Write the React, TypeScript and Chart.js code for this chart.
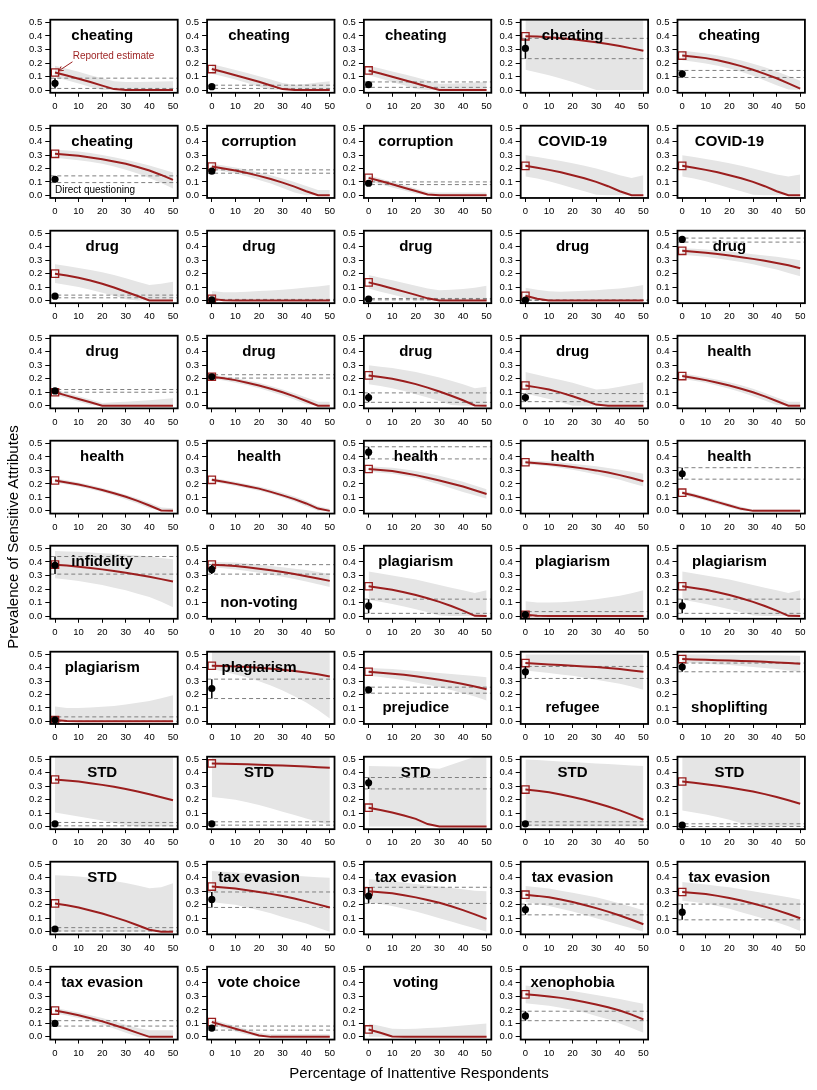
import React, { useEffect, useRef } from "react";
import { Chart, registerables } from "chart.js";
Chart.register(...registerables);

// ---------------- data ----------------
const X_GRID = [0, 5, 10, 15, 20, 25, 30, 35, 40, 45, 50];
const X_TICKS = [0, 10, 20, 30, 40, 50];
const Y_TICKS = [0, 0.1, 0.2, 0.3, 0.4, 0.5];

const TITLES = [
  "cheating", "cheating", "cheating", "cheating", "cheating",
  "cheating", "corruption", "corruption", "COVID-19", "COVID-19",
  "drug", "drug", "drug", "drug", "drug",
  "drug", "drug", "drug", "drug", "health",
  "health", "health", "health", "health", "health",
  "infidelity", "non-voting", "plagiarism", "plagiarism", "plagiarism",
  "plagiarism", "plagiarism", "prejudice", "refugee", "shoplifting",
  "STD", "STD", "STD", "STD", "STD",
  "STD", "tax evasion", "tax evasion", "tax evasion", "tax evasion",
  "tax evasion", "vote choice", "voting", "xenophobia",
];
const TITLE_AT_BOTTOM = [26, 32, 33, 34];

const REPORTED = [
  0.13, 0.155, 0.145, 0.397, 0.255,
  0.31, 0.215, 0.13, 0.22, 0.22,
  0.2, 0.012, 0.135, 0.035, 0.37,
  0.1, 0.215, 0.225, 0.15, 0.22,
  0.225, 0.23, 0.31, 0.36, 0.135,
  0.38, 0.38, 0.22, 0.01, 0.22,
  0.01, 0.415, 0.37, 0.435, 0.465,
  0.35, 0.47, 0.14, 0.275, 0.335,
  0.21, 0.335, 0.3, 0.275, 0.295,
  0.195, 0.11, 0.055, 0.315,
];

const CURVES = [
  [0.13, 0.108, 0.084, 0.059, 0.033, 0.007, 0, 0, 0, 0, 0],
  [0.155, 0.133, 0.11, 0.086, 0.061, 0.034, 0.007, 0, 0, 0, 0],
  [0.145, 0.122, 0.099, 0.075, 0.05, 0.024, 0, 0, 0, 0, 0],
  [0.397, 0.395, 0.39, 0.383, 0.375, 0.365, 0.353, 0.34, 0.325, 0.308, 0.29],
  [0.255, 0.247, 0.236, 0.22, 0.2, 0.177, 0.15, 0.12, 0.087, 0.05, 0.01],
  [0.31, 0.303, 0.295, 0.283, 0.27, 0.253, 0.235, 0.212, 0.185, 0.152, 0.115],
  [0.215, 0.201, 0.185, 0.166, 0.145, 0.122, 0.095, 0.065, 0.03, 0, 0],
  [0.13, 0.107, 0.082, 0.057, 0.032, 0.006, 0, 0, 0, 0, 0],
  [0.22, 0.206, 0.19, 0.172, 0.15, 0.127, 0.1, 0.068, 0.03, 0, 0],
  [0.22, 0.206, 0.19, 0.172, 0.15, 0.127, 0.1, 0.068, 0.03, 0, 0],
  [0.2, 0.186, 0.17, 0.149, 0.125, 0.097, 0.065, 0.033, 0, 0, 0],
  [0.012, 0.002, 0, 0, 0, 0, 0, 0, 0, 0, 0],
  [0.135, 0.113, 0.09, 0.066, 0.042, 0.016, 0, 0, 0, 0, 0],
  [0.035, 0.013, 0, 0, 0, 0, 0, 0, 0, 0, 0],
  [0.37, 0.363, 0.355, 0.346, 0.335, 0.323, 0.31, 0.296, 0.28, 0.262, 0.24],
  [0.1, 0.075, 0.05, 0.025, 0, 0, 0, 0, 0, 0, 0],
  [0.215, 0.204, 0.19, 0.171, 0.15, 0.126, 0.1, 0.069, 0.035, 0, 0],
  [0.225, 0.213, 0.2, 0.181, 0.16, 0.134, 0.105, 0.074, 0.04, 0.002, 0],
  [0.15, 0.136, 0.12, 0.097, 0.07, 0.04, 0.008, 0, 0, 0, 0],
  [0.22, 0.206, 0.19, 0.171, 0.15, 0.126, 0.1, 0.069, 0.035, 0, 0],
  [0.225, 0.211, 0.195, 0.176, 0.155, 0.131, 0.105, 0.074, 0.04, 0.003, 0],
  [0.23, 0.216, 0.2, 0.183, 0.165, 0.141, 0.115, 0.087, 0.055, 0.017, 0],
  [0.31, 0.303, 0.295, 0.281, 0.265, 0.246, 0.225, 0.203, 0.18, 0.153, 0.125],
  [0.36, 0.353, 0.345, 0.336, 0.325, 0.313, 0.3, 0.284, 0.265, 0.243, 0.22],
  [0.135, 0.114, 0.09, 0.065, 0.04, 0.015, 0, 0, 0, 0, 0],
  [0.38, 0.373, 0.365, 0.356, 0.345, 0.333, 0.32, 0.306, 0.29, 0.273, 0.255],
  [0.38, 0.375, 0.37, 0.361, 0.35, 0.338, 0.325, 0.311, 0.295, 0.278, 0.26],
  [0.22, 0.208, 0.195, 0.176, 0.155, 0.131, 0.105, 0.074, 0.04, 0.002, 0],
  [0.01, 0.002, 0, 0, 0, 0, 0, 0, 0, 0, 0],
  [0.22, 0.208, 0.195, 0.176, 0.155, 0.131, 0.105, 0.074, 0.04, 0.002, 0],
  [0.01, 0.002, 0, 0, 0, 0, 0, 0, 0, 0, 0],
  [0.415, 0.413, 0.41, 0.405, 0.4, 0.393, 0.385, 0.376, 0.365, 0.351, 0.335],
  [0.37, 0.363, 0.356, 0.347, 0.336, 0.324, 0.31, 0.295, 0.278, 0.26, 0.24],
  [0.435, 0.43, 0.425, 0.42, 0.415, 0.41, 0.405, 0.398, 0.39, 0.38, 0.37],
  [0.465, 0.462, 0.46, 0.457, 0.455, 0.451, 0.448, 0.444, 0.44, 0.435, 0.43],
  [0.35, 0.343, 0.335, 0.323, 0.31, 0.296, 0.28, 0.261, 0.24, 0.218, 0.195],
  [0.47, 0.468, 0.465, 0.463, 0.46, 0.457, 0.455, 0.451, 0.447, 0.442, 0.437],
  [0.14, 0.123, 0.104, 0.082, 0.057, 0.018, 0, 0, 0, 0, 0],
  [0.275, 0.266, 0.255, 0.239, 0.22, 0.199, 0.175, 0.149, 0.12, 0.087, 0.05],
  [0.335, 0.326, 0.315, 0.303, 0.29, 0.276, 0.26, 0.241, 0.22, 0.196, 0.17],
  [0.21, 0.196, 0.18, 0.158, 0.135, 0.108, 0.08, 0.048, 0.015, 0, 0],
  [0.335, 0.328, 0.32, 0.308, 0.295, 0.281, 0.265, 0.246, 0.225, 0.203, 0.18],
  [0.3, 0.293, 0.285, 0.271, 0.255, 0.236, 0.215, 0.189, 0.16, 0.129, 0.095],
  [0.275, 0.266, 0.255, 0.239, 0.22, 0.198, 0.175, 0.149, 0.12, 0.089, 0.055],
  [0.295, 0.288, 0.28, 0.266, 0.25, 0.231, 0.21, 0.186, 0.16, 0.131, 0.1],
  [0.195, 0.178, 0.16, 0.138, 0.115, 0.088, 0.06, 0.03, 0, 0, 0],
  [0.11, 0.085, 0.06, 0.035, 0.01, 0, 0, 0, 0, 0, 0],
  [0.055, 0.03, 0.003, 0, 0, 0, 0, 0, 0, 0, 0],
  [0.315, 0.308, 0.3, 0.289, 0.275, 0.259, 0.24, 0.219, 0.195, 0.165, 0.13],
];

const BAND_LO = [
  [0.095, 0.072, 0.048, 0.022, 0, 0, 0, 0, 0, 0, 0],
  [0.12, 0.1, 0.078, 0.052, 0.025, 0.002, 0, 0, 0, 0, 0],
  [0.11, 0.085, 0.06, 0.035, 0.008, 0, 0, 0, 0, 0, 0],
  [0.15, 0.13, 0.11, 0.085, 0.06, 0.03, 0, 0, 0, 0, 0],
  [0.22, 0.21, 0.197, 0.18, 0.16, 0.135, 0.105, 0.07, 0.035, 0.005, 0],
  [0.28, 0.272, 0.262, 0.25, 0.235, 0.215, 0.19, 0.162, 0.13, 0.092, 0.05],
  [0.195, 0.18, 0.162, 0.14, 0.115, 0.088, 0.055, 0.02, 0, 0, 0],
  [0.105, 0.082, 0.058, 0.035, 0.012, 0, 0, 0, 0, 0, 0],
  [0.14, 0.125, 0.105, 0.08, 0.055, 0.03, 0.005, 0, 0, 0, 0],
  [0.14, 0.125, 0.105, 0.08, 0.055, 0.03, 0.005, 0, 0, 0, 0],
  [0.13, 0.115, 0.1, 0.08, 0.058, 0.035, 0.01, 0, 0, 0, 0],
  [0, 0, 0, 0, 0, 0, 0, 0, 0, 0, 0],
  [0.09, 0.066, 0.045, 0.022, 0, 0, 0, 0, 0, 0, 0],
  [0, 0, 0, 0, 0, 0, 0, 0, 0, 0, 0],
  [0.34, 0.333, 0.325, 0.313, 0.3, 0.286, 0.27, 0.25, 0.23, 0.205, 0.18],
  [0.08, 0.055, 0.03, 0.005, 0, 0, 0, 0, 0, 0, 0],
  [0.2, 0.187, 0.17, 0.152, 0.13, 0.104, 0.075, 0.045, 0.01, 0, 0],
  [0.16, 0.146, 0.13, 0.11, 0.085, 0.06, 0.035, 0.005, 0, 0, 0],
  [0.09, 0.07, 0.05, 0.025, 0, 0, 0, 0, 0, 0, 0],
  [0.2, 0.186, 0.17, 0.149, 0.125, 0.099, 0.07, 0.038, 0.005, 0, 0],
  [0.21, 0.196, 0.18, 0.161, 0.14, 0.114, 0.085, 0.054, 0.02, 0, 0],
  [0.215, 0.201, 0.185, 0.168, 0.15, 0.126, 0.1, 0.07, 0.035, 0, 0],
  [0.29, 0.283, 0.275, 0.261, 0.245, 0.222, 0.195, 0.168, 0.14, 0.115, 0.09],
  [0.345, 0.338, 0.33, 0.318, 0.305, 0.288, 0.27, 0.25, 0.23, 0.205, 0.18],
  [0.12, 0.098, 0.075, 0.05, 0.025, 0, 0, 0, 0, 0, 0],
  [0.28, 0.27, 0.26, 0.245, 0.23, 0.21, 0.19, 0.165, 0.14, 0.105, 0.065],
  [0.36, 0.353, 0.345, 0.333, 0.32, 0.305, 0.29, 0.273, 0.255, 0.235, 0.215],
  [0.12, 0.105, 0.09, 0.07, 0.05, 0.028, 0.005, 0, 0, 0, 0],
  [0, 0, 0, 0, 0, 0, 0, 0, 0, 0, 0],
  [0.12, 0.105, 0.09, 0.07, 0.05, 0.028, 0.005, 0, 0, 0, 0],
  [0, 0, 0, 0, 0, 0, 0, 0, 0, 0, 0],
  [0.39, 0.372, 0.35, 0.327, 0.3, 0.268, 0.23, 0.188, 0.14, 0.085, 0.02],
  [0.34, 0.331, 0.32, 0.306, 0.29, 0.273, 0.255, 0.234, 0.21, 0.185, 0.155],
  [0.38, 0.37, 0.36, 0.35, 0.34, 0.326, 0.31, 0.295, 0.28, 0.26, 0.235],
  [0.44, 0.436, 0.43, 0.425, 0.42, 0.413, 0.405, 0.398, 0.39, 0.38, 0.37],
  [0.105, 0.09, 0.075, 0.06, 0.045, 0.028, 0.01, 0, 0, 0, 0],
  [0.22, 0.21, 0.2, 0.18, 0.16, 0.135, 0.11, 0.085, 0.06, 0.035, 0.01],
  [0, 0, 0, 0, 0, 0, 0, 0, 0, 0, 0],
  [0, 0, 0, 0, 0, 0, 0, 0, 0, 0, 0],
  [0.12, 0.105, 0.09, 0.07, 0.05, 0.025, 0.002, 0, 0, 0, 0],
  [0, 0, 0, 0, 0, 0, 0, 0, 0, 0, 0],
  [0.22, 0.21, 0.2, 0.18, 0.16, 0.137, 0.11, 0.085, 0.06, 0.03, 0],
  [0.22, 0.205, 0.19, 0.17, 0.15, 0.125, 0.1, 0.075, 0.05, 0.025, 0],
  [0.22, 0.206, 0.19, 0.17, 0.15, 0.125, 0.1, 0.075, 0.05, 0.025, 0],
  [0.23, 0.22, 0.21, 0.19, 0.17, 0.145, 0.12, 0.095, 0.07, 0.04, 0.005],
  [0.175, 0.158, 0.14, 0.117, 0.09, 0.062, 0.03, 0, 0, 0, 0],
  [0.09, 0.065, 0.04, 0.015, 0, 0, 0, 0, 0, 0, 0],
  [0, 0, 0, 0, 0, 0, 0, 0, 0, 0, 0],
  [0.25, 0.24, 0.23, 0.216, 0.2, 0.18, 0.155, 0.13, 0.1, 0.065, 0.03],
];

const BAND_HI = [
  [0.18, 0.158, 0.135, 0.11, 0.088, 0.066, 0.06, 0.06, 0.062, 0.063, 0.065],
  [0.19, 0.17, 0.148, 0.126, 0.103, 0.078, 0.052, 0.04, 0.045, 0.055, 0.065],
  [0.18, 0.16, 0.138, 0.116, 0.094, 0.07, 0.047, 0.048, 0.05, 0.055, 0.06],
  [0.56, 0.56, 0.56, 0.56, 0.56, 0.56, 0.56, 0.56, 0.56, 0.56, 0.56],
  [0.29, 0.282, 0.27, 0.255, 0.238, 0.218, 0.195, 0.168, 0.138, 0.104, 0.068],
  [0.34, 0.335, 0.327, 0.316, 0.302, 0.285, 0.266, 0.245, 0.222, 0.197, 0.17],
  [0.235, 0.222, 0.207, 0.19, 0.17, 0.15, 0.126, 0.1, 0.07, 0.04, 0.04],
  [0.15, 0.126, 0.1, 0.076, 0.05, 0.025, 0.02, 0.02, 0.02, 0.02, 0.02],
  [0.3, 0.287, 0.272, 0.257, 0.24, 0.22, 0.2, 0.175, 0.15, 0.13, 0.15],
  [0.3, 0.287, 0.272, 0.257, 0.24, 0.22, 0.2, 0.178, 0.155, 0.14, 0.155],
  [0.27, 0.257, 0.242, 0.227, 0.21, 0.19, 0.165, 0.14, 0.115, 0.125, 0.14],
  [0.07, 0.062, 0.062, 0.065, 0.07, 0.075, 0.08, 0.088, 0.096, 0.105, 0.115],
  [0.19, 0.17, 0.15, 0.13, 0.11, 0.09, 0.077, 0.08, 0.085, 0.095, 0.11],
  [0.095, 0.08, 0.068, 0.065, 0.068, 0.072, 0.077, 0.083, 0.09, 0.1, 0.115],
  [0.39, 0.386, 0.38, 0.373, 0.365, 0.355, 0.345, 0.335, 0.325, 0.313, 0.3],
  [0.12, 0.095, 0.07, 0.045, 0.02, 0.025, 0.03, 0.035, 0.04, 0.048, 0.055],
  [0.23, 0.219, 0.205, 0.189, 0.17, 0.147, 0.12, 0.092, 0.06, 0.03, 0.03],
  [0.3, 0.29, 0.28, 0.266, 0.25, 0.23, 0.21, 0.185, 0.16, 0.13, 0.14],
  [0.25, 0.23, 0.21, 0.19, 0.17, 0.145, 0.12, 0.125, 0.14, 0.158, 0.175],
  [0.24, 0.226, 0.21, 0.193, 0.175, 0.152, 0.125, 0.095, 0.06, 0.03, 0.03],
  [0.24, 0.226, 0.21, 0.191, 0.17, 0.146, 0.12, 0.092, 0.06, 0.025, 0.02],
  [0.245, 0.231, 0.215, 0.198, 0.18, 0.158, 0.135, 0.106, 0.075, 0.035, 0.015],
  [0.33, 0.326, 0.32, 0.308, 0.295, 0.278, 0.26, 0.238, 0.215, 0.188, 0.16],
  [0.375, 0.37, 0.365, 0.358, 0.35, 0.34, 0.33, 0.318, 0.305, 0.29, 0.275],
  [0.15, 0.128, 0.105, 0.08, 0.055, 0.03, 0.01, 0.01, 0.01, 0.01, 0.01],
  [0.48, 0.478, 0.475, 0.47, 0.465, 0.46, 0.455, 0.448, 0.44, 0.43, 0.42],
  [0.4, 0.398, 0.395, 0.388, 0.38, 0.37, 0.36, 0.35, 0.34, 0.325, 0.31],
  [0.33, 0.315, 0.3, 0.285, 0.27, 0.25, 0.23, 0.21, 0.19, 0.17, 0.19],
  [0.11, 0.1, 0.1, 0.103, 0.108, 0.115, 0.125, 0.137, 0.15, 0.168, 0.19],
  [0.33, 0.315, 0.3, 0.285, 0.27, 0.25, 0.23, 0.21, 0.19, 0.17, 0.19],
  [0.11, 0.1, 0.1, 0.103, 0.108, 0.115, 0.125, 0.138, 0.152, 0.172, 0.195],
  [0.56, 0.56, 0.56, 0.56, 0.56, 0.56, 0.56, 0.56, 0.56, 0.56, 0.56],
  [0.4, 0.395, 0.39, 0.383, 0.375, 0.368, 0.36, 0.353, 0.345, 0.338, 0.33],
  [0.5, 0.5, 0.5, 0.5, 0.5, 0.5, 0.5, 0.5, 0.5, 0.5, 0.5],
  [0.5, 0.5, 0.5, 0.498, 0.497, 0.496, 0.495, 0.494, 0.493, 0.492, 0.49],
  [0.56, 0.56, 0.56, 0.56, 0.56, 0.56, 0.56, 0.56, 0.56, 0.56, 0.56],
  [0.56, 0.56, 0.56, 0.56, 0.56, 0.56, 0.56, 0.56, 0.56, 0.56, 0.56],
  [0.45, 0.449, 0.447, 0.445, 0.44, 0.435, 0.43, 0.46, 0.49, 0.52, 0.55],
  [0.5, 0.495, 0.49, 0.485, 0.48, 0.475, 0.47, 0.465, 0.46, 0.455, 0.45],
  [0.56, 0.56, 0.56, 0.56, 0.56, 0.56, 0.56, 0.56, 0.56, 0.56, 0.56],
  [0.42, 0.416, 0.41, 0.4, 0.39, 0.377, 0.362, 0.343, 0.322, 0.33, 0.36],
  [0.45, 0.445, 0.44, 0.435, 0.43, 0.425, 0.42, 0.415, 0.41, 0.405, 0.4],
  [0.39, 0.385, 0.375, 0.365, 0.355, 0.345, 0.335, 0.325, 0.315, 0.305, 0.3],
  [0.34, 0.33, 0.32, 0.305, 0.29, 0.273, 0.255, 0.233, 0.21, 0.185, 0.16],
  [0.37, 0.36, 0.35, 0.34, 0.33, 0.315, 0.3, 0.285, 0.27, 0.255, 0.24],
  [0.215, 0.198, 0.18, 0.16, 0.14, 0.115, 0.09, 0.065, 0.05, 0.05, 0.05],
  [0.13, 0.105, 0.08, 0.055, 0.03, 0.02, 0.02, 0.02, 0.02, 0.02, 0.02],
  [0.1, 0.08, 0.06, 0.058, 0.06, 0.065, 0.07, 0.077, 0.085, 0.092, 0.1],
  [0.38, 0.37, 0.36, 0.35, 0.34, 0.325, 0.31, 0.295, 0.28, 0.263, 0.245],
];

// direct questioning estimate and its interval (null: not available)
const DQ_EST = [
  0.05, 0.025, 0.04, 0.308, 0.12,
  0.12, 0.18, 0.09, null, null,
  0.032, 0.004, 0.01, 0.002, 0.455,
  0.11, 0.215, 0.06, 0.06, null,
  null, null, 0.435, null, 0.275,
  0.375, 0.345, 0.075, 0.01, 0.075,
  0.01, 0.245, 0.235, 0.37, 0.405,
  0.02, 0.02, 0.325, 0.02, 0.01,
  0.02, 0.24, 0.265, 0.165, 0.145,
  0.1, 0.065, null, 0.155,
];
const DQ_LO = [
  0.012, 0.012, 0.02, 0.232, 0.093,
  0.095, 0.165, 0.08, null, null,
  0.02, 0.0, 0.005, 0.0, 0.435,
  0.1, 0.205, 0.025, 0.03, null,
  null, null, 0.385, null, 0.235,
  0.31, 0.31, 0.02, 0.0, 0.02,
  0.0, 0.17, 0.21, 0.32, 0.37,
  0.005, 0.01, 0.28, 0.01, 0.0,
  0.005, 0.18, 0.21, 0.125, 0.088,
  0.08, 0.05, null, 0.12,
];
const DQ_HI = [
  0.088, 0.036, 0.06, 0.382, 0.145,
  0.145, 0.19, 0.1, null, null,
  0.04, 0.008, 0.015, 0.004, 0.465,
  0.12, 0.23, 0.095, 0.09, null,
  null, null, 0.475, null, 0.32,
  0.44, 0.38, 0.125, 0.033, 0.125,
  0.033, 0.315, 0.255, 0.41, 0.435,
  0.03, 0.035, 0.365, 0.035, 0.02,
  0.03, 0.295, 0.33, 0.205, 0.205,
  0.12, 0.08, null, 0.19,
];

const X_LABEL = "Percentage of Inattentive Respondents";
const Y_LABEL = "Prevalence of Sensitive Attributes";
const NOTE_REPORTED = "Reported estimate";
const NOTE_DIRECT = "Direct questioning";

// ---------------- layout / style ----------------
const FONT = "'Liberation Sans', Arial, Helvetica, sans-serif";
const RED = "#9b1e1e";
const BAND = "#e5e5e5";
const DASH = "#7f7f7f";

const X0 = 55; // pixel of x=0 in column 0
const Y0 = 90; // pixel of y=0 in row 0
const COL_PITCH = 156.8;
const ROW_PITCH = 105.2;
const PXX = 2.36; // px per x unit
const PXY = 138.6; // px per y unit
const BOX_W = 54 * PXX;
const BOX_H = 0.54 * PXY;
const CW = 182;
const CH = 110;

function Panel({ idx }: { idx: number }) {
  const ref = useRef<HTMLCanvasElement | null>(null);
  const row = Math.floor(idx / 5);
  const col = idx % 5;
  const boxL = X0 + col * COL_PITCH - 2 * PXX;
  const boxT = Y0 + row * ROW_PITCH - 0.52 * PXY;
  const cL = Math.floor(boxL) - 40;
  const cT = Math.floor(boxT) - 6;

  useEffect(() => {
    const axisW = boxL - cL;
    const padTop = boxT - cT;
    const padRight = CW - axisW - BOX_W;
    const axisH = CH - padTop - BOX_H;

    const xy = (arr: number[]) => arr.map((v, i) => ({ x: X_GRID[i], y: v }));
    const datasets: any[] = [
      {
        data: xy(BAND_HI[idx]),
        borderWidth: 0,
        pointRadius: 0,
        backgroundColor: BAND,
        fill: "+1",
        order: 10,
      },
      {
        data: xy(BAND_LO[idx]),
        borderWidth: 0,
        pointRadius: 0,
        fill: false,
        order: 10,
      },
      {
        data: xy(CURVES[idx]),
        borderColor: RED,
        borderWidth: 2,
        pointRadius: 0,
        fill: false,
        order: 6,
      },
      {
        data: [{ x: 0, y: REPORTED[idx] }],
        showLine: false,
        pointStyle: "rect",
        pointRadius: 5.2,
        pointBorderColor: RED,
        pointBackgroundColor: "rgba(255,255,255,0)",
        pointBorderWidth: 1.3,
        order: 4,
      },
    ];
    const est = DQ_EST[idx];
    if (est !== null) {
      const lo = DQ_LO[idx] as number;
      const hi = DQ_HI[idx] as number;
      datasets.push(
        {
          data: [{ x: -2, y: lo }, { x: 52, y: lo }],
          borderColor: DASH,
          borderWidth: 1,
          borderDash: [4, 3],
          pointRadius: 0,
          fill: false,
          order: 8,
        },
        {
          data: [{ x: -2, y: hi }, { x: 52, y: hi }],
          borderColor: DASH,
          borderWidth: 1,
          borderDash: [4, 3],
          pointRadius: 0,
          fill: false,
          order: 8,
        },
        {
          data: [{ x: 0, y: lo }, { x: 0, y: hi }],
          borderColor: "#000",
          borderWidth: 1.5,
          pointRadius: 0,
          fill: false,
          order: 3,
        },
        {
          data: [{ x: 0, y: est }],
          showLine: false,
          pointStyle: "circle",
          pointRadius: 3.6,
          pointBackgroundColor: "#000",
          pointBorderColor: "#000",
          pointBorderWidth: 0,
          order: 2,
        }
      );
    }

    const decor = {
      id: "decor" + idx,
      afterDatasetsDraw(chart: any) {
        const { ctx, chartArea } = chart;
        const sx = chart.scales.x;
        const sy = chart.scales.y;
        ctx.save();
        // box
        ctx.strokeStyle = "#000";
        ctx.lineWidth = 1.8;
        ctx.strokeRect(chartArea.left, chartArea.top, chartArea.right - chartArea.left, chartArea.bottom - chartArea.top);
        // title
        const bottom = TITLE_AT_BOTTOM.includes(idx);
        ctx.font = `bold 15px ${FONT}`;
        ctx.fillStyle = "#000";
        ctx.textAlign = "center";
        ctx.textBaseline = "middle";
        ctx.fillText(TITLES[idx], sx.getPixelForValue(20), sy.getPixelForValue(bottom ? 0.1 : 0.4));
        if (idx === 0) {
          ctx.font = `10px ${FONT}`;
          ctx.fillStyle = RED;
          ctx.textAlign = "left";
          ctx.fillText(NOTE_REPORTED, sx.getPixelForValue(7.5), sy.getPixelForValue(0.25));
          const ax = sx.getPixelForValue(7.4), ay = sy.getPixelForValue(0.209);
          const bx = sx.getPixelForValue(1.6), by = sy.getPixelForValue(0.142);
          ctx.strokeStyle = RED;
          ctx.lineWidth = 1;
          ctx.beginPath();
          ctx.moveTo(ax, ay);
          ctx.lineTo(bx, by);
          const ang = Math.atan2(ay - by, ax - bx);
          const L = 5;
          ctx.moveTo(bx + L * Math.cos(ang + 0.5), by + L * Math.sin(ang + 0.5));
          ctx.lineTo(bx, by);
          ctx.lineTo(bx + L * Math.cos(ang - 0.5), by + L * Math.sin(ang - 0.5));
          ctx.stroke();
        }
        if (idx === 5) {
          ctx.font = `10px ${FONT}`;
          ctx.fillStyle = "#000";
          ctx.textAlign = "left";
          ctx.fillText(NOTE_DIRECT, sx.getPixelForValue(0), sy.getPixelForValue(0.04));
        }
        ctx.restore();
      },
    };

    const chart = new Chart(ref.current as HTMLCanvasElement, {
      type: "line",
      data: { datasets },
      options: {
        responsive: false,
        maintainAspectRatio: false,
        animation: false,
        devicePixelRatio: 1,
        events: [],
        layout: {
          autoPadding: false,
          padding: { top: padTop, right: padRight, bottom: 0, left: 0 },
        },
        plugins: { legend: { display: false }, tooltip: { enabled: false } },
        scales: {
          x: {
            type: "linear",
            min: -2,
            max: 52,
            afterBuildTicks: (s: any) => {
              s.ticks = X_TICKS.map((v) => ({ value: v }));
            },
            afterFit: (s: any) => {
              s.height = axisH;
            },
            ticks: {
              autoSkip: false,
              maxRotation: 0,
              padding: 4,
              color: "#000",
              font: { size: 9.5, family: FONT },
              callback: (v: any) => String(v),
            },
            grid: {
              display: true,
              drawOnChartArea: false,
              drawTicks: true,
              tickLength: 4,
              color: "#000",
              lineWidth: 1,
            },
            border: { display: false },
          },
          y: {
            type: "linear",
            min: -0.02,
            max: 0.52,
            afterBuildTicks: (s: any) => {
              s.ticks = Y_TICKS.map((v) => ({ value: v }));
            },
            afterFit: (s: any) => {
              s.width = axisW;
            },
            ticks: {
              autoSkip: false,
              padding: 3,
              color: "#000",
              font: { size: 9.5, family: FONT },
              callback: (v: any) => Number(v).toFixed(1),
            },
            grid: {
              display: true,
              drawOnChartArea: false,
              drawTicks: true,
              tickLength: 5,
              color: "#000",
              lineWidth: 1,
            },
            border: { display: false },
          },
        },
      } as any,
      plugins: [decor],
    });
    return () => chart.destroy();
  }, []);

  return (
    <canvas
      ref={ref}
      width={CW}
      height={CH}
      style={{ position: "absolute", left: cL, top: cT, width: CW, height: CH }}
    />
  );
}

export default function App() {
  return (
    <div
      style={{
        position: "absolute",
        left: 0,
        top: 0,
        width: 817,
        height: 1090,
        background: "#fff",
        fontFamily: FONT,
        overflow: "hidden",
      }}
    >
      {TITLES.map((_, i) => (
        <Panel key={i} idx={i} />
      ))}
      <div
        style={{
          position: "absolute",
          left: 419 - 200,
          top: 1064,
          width: 400,
          textAlign: "center",
          fontSize: 15,
          lineHeight: "18px",
          color: "#000",
        }}
      >
        {X_LABEL}
      </div>
      <div
        style={{
          position: "absolute",
          left: 13 - 200,
          top: 537 - 9,
          width: 400,
          height: 18,
          textAlign: "center",
          fontSize: 15,
          lineHeight: "18px",
          color: "#000",
          transform: "rotate(-90deg)",
          transformOrigin: "200px 9px",
        }}
      >
        {Y_LABEL}
      </div>
    </div>
  );
}
